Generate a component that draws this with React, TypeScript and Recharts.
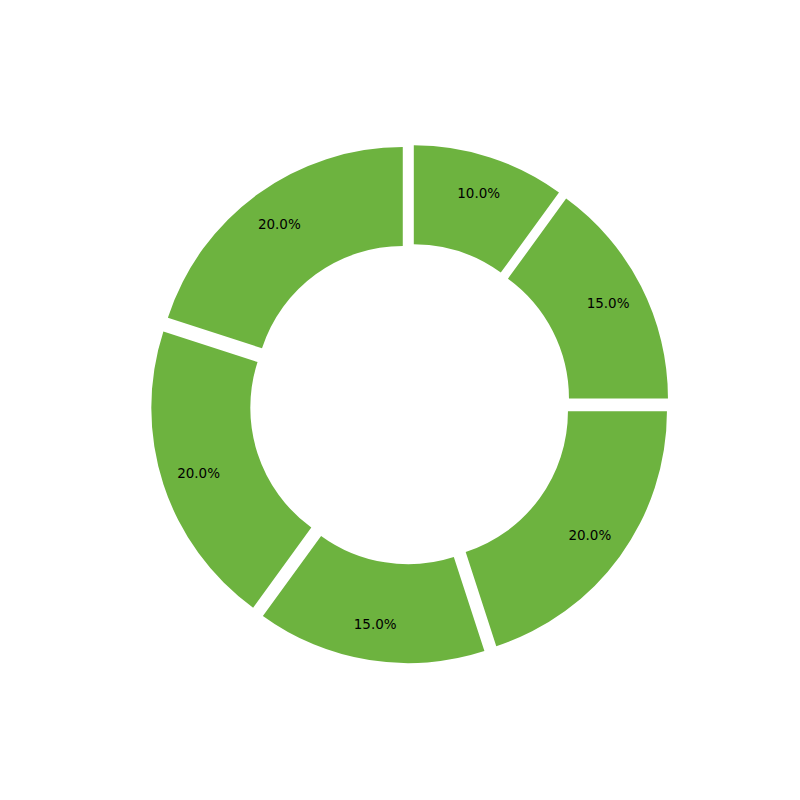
import React from "react";
import { PieChart, Pie, Sector, Cell } from "recharts";

const categories = ["A", "B", "C", "D", "E", "F"];
const shares = [10, 15, 20, 15, 20, 20];
const data = categories.map((name, i) => ({ name, value: shares[i] }));

const CX = 397;
const CY = 391;
const OUTER = 247;
const INNER = 148;
const SHIFT = 12.3;
const LABEL_R = 210;
const RAD = Math.PI / 180;

const ExplodedSector = (props: any) => {
  const mid = (props.startAngle + props.endAngle) / 2;
  const dx = SHIFT * Math.cos(mid * RAD);
  const dy = -SHIFT * Math.sin(mid * RAD);
  return <Sector {...props} cx={props.cx + dx} cy={props.cy + dy} stroke="none" />;
};

const renderLabel = (props: any) => {
  const mid = (props.startAngle + props.endAngle) / 2;
  const r = LABEL_R + SHIFT;
  const x = props.cx + r * Math.cos(mid * RAD);
  const y = props.cy - r * Math.sin(mid * RAD);
  return (
    <text
      x={x}
      y={y}
      textAnchor="middle"
      dominantBaseline="central"
      fill="#000"
      fontFamily="DejaVu Sans"
      fontSize={13.5}
    >
      {`${(props.percent * 100).toFixed(1)}%`}
    </text>
  );
};

export default function App() {
  return (
    <PieChart width={800} height={800}>
      <Pie
        data={data}
        dataKey="value"
        cx={CX}
        cy={CY}
        innerRadius={INNER}
        outerRadius={OUTER}
        startAngle={90}
        endAngle={-270}
        paddingAngle={0}
        shape={ExplodedSector}
        label={renderLabel}
        labelLine={false}
        isAnimationActive={false}
      >
        {data.map((d) => (
          <Cell key={d.name} fill="#6db33f" />
        ))}
      </Pie>
    </PieChart>
  );
}
